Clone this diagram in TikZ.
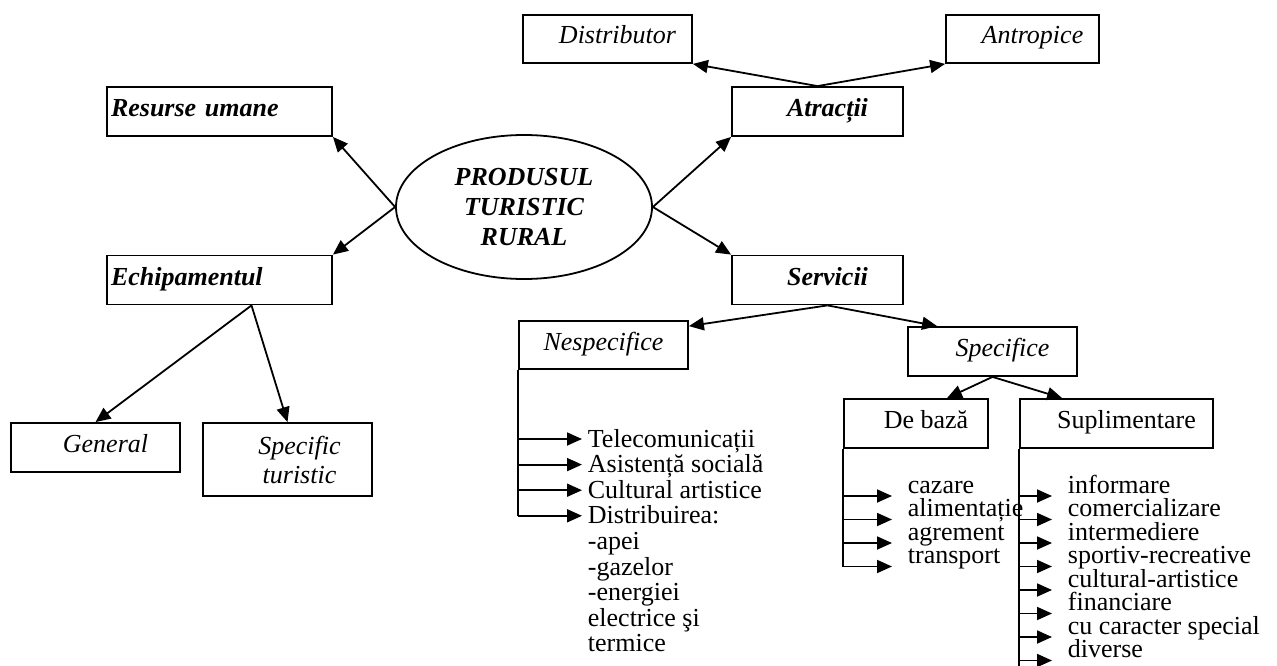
\documentclass[tikz,border=0pt]{standalone}
\usepackage{fontspec}
\setmainfont{Liberation Serif}
\usetikzlibrary{arrows.meta,shapes.geometric,positioning}
\tikzset{>={Triangle[length=15pt,width=13pt]}, % filled heads
every edge/.style={draw,->}, % every connector is an arrow
every node/.style={font=\fontsize{26pt}{29pt}\selectfont},
box/.style={draw, inner sep=0pt, minimum height=49pt, text height=19pt, text depth=9pt}, % the framed boxes
mainbox/.style={font=\fontsize{26pt}{29pt}\selectfont\bfseries\itshape},
subbox/.style={font=\fontsize{26pt}{29pt}\selectfont\itshape},
pad/.style={execute at begin node={\hspace*{20pt}}}, % text a bit right of the middle
item/.style={anchor=base west, inner xsep=5pt, text height=18pt, text depth=2pt}, % arrow meets the line
rest/.style={anchor=base west, inner xsep=5pt},
subitem/.style={anchor=base west, inner xsep=15pt, text height=6pt, text depth=12pt}, % arrow below the line
}

\begin{document}
\begin{tikzpicture}[x=1pt,y=-1pt,line width=1.8pt]
\useasboundingbox (0,0) rectangle (1277,666);
\node[ellipse, draw, inner sep=0pt, minimum width=256pt, minimum height=144pt, align=center,
  font=\fontsize{26pt}{30pt}\selectfont\bfseries\itshape] (prod) at (524,207) {PRODUSUL\\TURISTIC\\RURAL};
\node[box, mainbox, minimum width=225pt, text width=217pt, align=left] (res) at (219.5,111.5) {Resurse umane};
\node[box, mainbox, minimum width=225pt, text width=217pt, align=left] (echip) at (219.5,280) {Echipamentul};
\node[box, mainbox, pad, minimum width=171pt] (atr) at (817.5,111.5) {Atracții};
\node[box, mainbox, pad, minimum width=171pt] (serv) at (817.5,280) {Servicii};
\node[box, subbox, pad, minimum width=169pt, minimum height=48pt] (dist) at (607.5,39) {Distributor};
\node[box, subbox, pad, minimum width=153pt, minimum height=48pt] (antr) at (1022.5,39) {Antropice};
\node[box, subbox, pad, minimum width=169pt] (gen) at (95.5,447.5) {General};
\node[draw, subbox, inner sep=0pt, minimum width=169pt, minimum height=73pt, align=center] (spt) at (287.5,459.5)
  {\hspace*{24pt}Specific\\\hspace*{24pt}turistic};
\node[box, subbox, minimum width=169pt, minimum height=48pt] (nesp) at (603.5,345) {Nespecifice};
\node[box, subbox, pad, minimum width=169pt] (spec) at (992.5,351.5) {Specifice};
\node[box, pad, minimum width=144pt] (baza) at (916,423.5) {De bază};
\node[box, pad, minimum width=193pt] (supl) at (1116.5,423.5) {Suplimentare};

\path (prod.west) edge (res.south east)
(prod.west) edge (echip.north east)
(prod.east) edge (atr.south west)
(prod.east) edge (serv.north west)
(atr.north) edge (dist.south east)
(atr.north) edge (antr.south west)
([xshift=32pt]echip.south) edge (gen.north)
([xshift=32pt]echip.south) edge (spt.north)
([xshift=10pt]serv.south) edge ([yshift=-6pt]nesp.north east)
([xshift=10pt]serv.south) edge ([xshift=30pt]spec.north west)
(spec.south) edge ([xshift=31pt]baza.north)
(spec.south) edge ([xshift=43pt]supl.north west);

% Nespecifice
\node[item] (n1) at (582,447) {Telecomunicații};
\node[item] (n2) at (582,472.6) {Asistență socială};
\node[item] (n3) at (582,498.2) {Cultural artistice};
\node[item] (n4) at (582,523.8) {Distribuirea:};
\node[rest] (n5) at (582,549.4) {-apei};
\node[rest] (n6) at (582,575) {-gazelor};
\node[rest] (n7) at (582,600.6) {-energiei};
\node[rest] (n8) at (582,626.2) {electrice şi};
\node[rest] (n9) at (582,651.8) {termice};
\draw (nesp.south west) -- (n4.west -| nesp.south west);
\path (n1.west -| nesp.south west) edge (n1.west)
(n2.west -| nesp.south west) edge (n2.west)
(n3.west -| nesp.south west) edge (n3.west)
(n4.west -| nesp.south west) edge (n4.west);

% De baza
\node[subitem] (b1) at (892,493) {cazare};
\node[subitem] (b2) at (892,516.5) {alimentație};
\node[subitem] (b3) at (892,540) {agrement};
\node[subitem] (b4) at (892,563.5) {transport};
\draw (baza.south west) -- (b4.west -| baza.south west);
\path (b1.west -| baza.south west) edge (b1.west)
(b2.west -| baza.south west) edge (b2.west)
(b3.west -| baza.south west) edge (b3.west)
(b4.west -| baza.south west) edge (b4.west);

% Suplimentare
\node[subitem] (s1) at (1052,493) {informare};
\node[subitem] (s2) at (1052,516.5) {comercializare};
\node[subitem] (s3) at (1052,540) {intermediere};
\node[subitem] (s4) at (1052,563.5) {sportiv-recreative};
\node[subitem] (s5) at (1052,587) {cultural-artistice};
\node[subitem] (s6) at (1052,610.5) {financiare};
\node[subitem] (s7) at (1052,634) {cu caracter special};
\node[subitem] (s8) at (1052,657.5) {diverse};
\draw (supl.south west) -- (s8.west -| supl.south west) -- ++(0,10);
\path (s1.west -| supl.south west) edge (s1.west)
(s2.west -| supl.south west) edge (s2.west)
(s3.west -| supl.south west) edge (s3.west)
(s4.west -| supl.south west) edge (s4.west)
(s5.west -| supl.south west) edge (s5.west)
(s6.west -| supl.south west) edge (s6.west)
(s7.west -| supl.south west) edge (s7.west)
(s8.west -| supl.south west) edge (s8.west);
\end{tikzpicture}
\end{document}
